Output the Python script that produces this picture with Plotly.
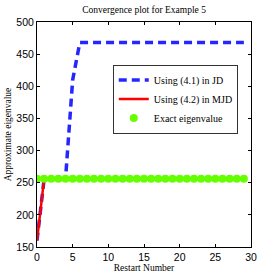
import plotly.graph_objects as go

restarts = list(range(0, 30))
jd_x = [0, 1, 2, 3, 4, 5, 6] + list(range(7, 30))
jd_y = [160, 256, 256, 256, 256, 410, 468] + [468] * 23
mjd_x = list(range(0, 30))
mjd_y = [160] + [256] * 29
exact_x = list(range(0, 30))
exact_y = [256] * 30

fig = go.Figure()
fig.add_trace(go.Scatter(x=jd_x, y=jd_y, mode="lines", name="Using (4.1) in JD",
                         line=dict(color="#0000ff", width=3.5, dash="8px,5px"), opacity=0.85))
fig.add_trace(go.Scatter(x=mjd_x, y=mjd_y, mode="lines", name="Using (4.2) in MJD",
                         line=dict(color="#ff0000", width=2.5)))
fig.add_trace(go.Scatter(x=exact_x, y=exact_y, mode="markers", name="Exact eigenvalue",
                         marker=dict(color="#66ff00", size=8, line=dict(width=0))))

axis_common = dict(showgrid=False, zeroline=False, showline=True, linecolor="black", linewidth=1,
                   mirror="ticks", ticks="inside", ticklen=3, tickcolor="black", automargin=False,
                   tickfont=dict(family="Liberation Sans, Arial", size=10.5, color="black"))
fig.update_layout(
    width=277, height=277,
    margin=dict(l=37, r=26, t=22, b=30),
    paper_bgcolor="white", plot_bgcolor="white",
    title=dict(text="Convergence plot for Example 5", x=0.52, xanchor="center", y=0.966, yanchor="middle",
               font=dict(family="Liberation Serif, Times New Roman", size=9.5, color="black")),
    xaxis=dict(range=[0, 30], tickvals=[0, 5, 10, 15, 20, 25, 30],
               title=dict(text="Restart Number", standoff=1,
                          font=dict(family="Liberation Serif", size=9.5, color="black")),
               **axis_common),
    yaxis=dict(range=[150, 500], tickvals=[150, 200, 250, 300, 350, 400, 450, 500],
               title=dict(text="Approximate eigenvalue", standoff=3,
                          font=dict(family="Liberation Serif", size=9.5, color="black")),
               **axis_common),
    legend=dict(x=0.355, y=0.81, xanchor="left", yanchor="top",
                bgcolor="white", bordercolor="black", borderwidth=0.8,
                font=dict(family="Liberation Serif, Times New Roman", size=10, color="black"),
                itemwidth=30, tracegroupgap=0),
    showlegend=True,
)
fig.write_html("out.html", config={"displayModeBar": False},
               post_script="document.body.style.margin='0px';")
